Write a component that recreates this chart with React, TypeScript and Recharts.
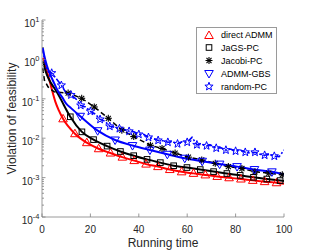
import React from "react";
import { LineChart, Line, XAxis, YAxis, Legend } from "recharts";

// direct ADMM
const admmX = [0.5, 1, 2, 3, 4, 5.5, 7, 8.7, 13.6, 18.5, 23.4, 28.3, 33.2, 38.1, 43, 47.9, 52.8, 57.7, 62.6, 67.5, 72.4, 77.3, 82.2, 87.1, 92, 96.9, 100];
const admmY = [1.1, 0.8, 0.5, 0.31, 0.18, 0.085, 0.05, 0.031, 0.013, 0.0077, 0.0054, 0.0042, 0.0033, 0.0027, 0.0022, 0.0019, 0.0016, 0.0014, 0.00128, 0.00117, 0.00107, 0.00099, 0.00092, 0.00085, 0.00079, 0.00074, 0.0007];

// JaGS-PC
const jagsX = [0.5, 1.5, 3, 5, 7, 9, 11.7, 16.5, 21.3, 26.9, 32.4, 37.9, 43.4, 48.9, 54.4, 59.9, 65.4, 70.9, 76.4, 81.9, 87.4, 92.9, 98.4, 100];
const jagsY = [0.9, 0.5, 0.3, 0.19, 0.12, 0.07, 0.035, 0.0145, 0.0092, 0.0063, 0.0046, 0.0036, 0.0029, 0.0024, 0.002, 0.0018, 0.0016, 0.00142, 0.00127, 0.00114, 0.00102, 0.00092, 0.00084, 0.00082];

// Jacobi-PC
const jacobiX = [0.3, 1, 2.5, 5, 10.8, 16.4, 21.6, 27.4, 33, 37.9, 44.8, 49.6, 55, 60.5, 66, 71.6, 77, 82.6, 88, 93.7, 99.3];
const jacobiY = [0.6, 0.3, 0.2, 0.15, 0.14, 0.103, 0.062, 0.032, 0.016, 0.011, 0.0066, 0.0055, 0.0042, 0.0033, 0.0028, 0.0023, 0.0019, 0.0017, 0.0014, 0.0013, 0.00118];

// ADMM-GBS
const gbsX = [0.3, 1, 2, 3.5, 5, 6.5, 8.3, 10, 12, 15.8, 23, 30.2, 37.4, 44.6, 51.8, 59, 66.2, 73.4, 80.6, 87.8, 95, 100];
const gbsY = [2.0, 1.2, 0.7, 0.4, 0.25, 0.16, 0.11, 0.075, 0.058, 0.036, 0.0155, 0.009, 0.0065, 0.005, 0.0039, 0.0031, 0.0026, 0.0022, 0.0019, 0.0016, 0.0014, 0.0012];

// random-PC
const randX = [0, 2, 4, 6, 8, 10, 12, 14, 16, 18, 20, 22, 24, 26, 28, 30, 32, 34, 36, 38, 40, 42, 44, 46, 48, 50, 52, 54, 56, 58, 60, 62, 64, 66, 68, 70, 72, 74, 76, 78, 80, 82, 84, 86, 88, 90, 92, 94, 96, 98, 100];
const randY = [2.0, 0.55, 0.45, 0.32, 0.22, 0.14, 0.125, 0.1, 0.068, 0.062, 0.048, 0.041, 0.03, 0.027, 0.02, 0.019, 0.0175, 0.0165, 0.015, 0.0145, 0.0125, 0.0125, 0.0105, 0.0098, 0.0088, 0.0086, 0.0079, 0.0081, 0.0072, 0.0082, 0.0079, 0.0105, 0.0068, 0.007, 0.0064, 0.0066, 0.0056, 0.0057, 0.005, 0.0053, 0.0047, 0.005, 0.0044, 0.0042, 0.0044, 0.0039, 0.0037, 0.0039, 0.0035, 0.0034, 0.005];

const xTicks = [0, 20, 40, 60, 80, 100];
const yMajor = [1e-4, 1e-3, 1e-2, 1e-1, 1, 10];
const minorSteps = [2, 3, 4, 5, 6, 7, 8, 9];
const yTicks = [
  ...yMajor,
  ...yMajor.slice(0, -1).flatMap((d) => minorSteps.map((m) => m * d)),
];

const FONT = "'Liberation Sans', Arial, Helvetica, sans-serif";
const AXIS = "#808080";
const TXT = "#262626";

type Kind = "up" | "square" | "asterisk" | "down" | "star";

const rows = (xs: number[], ys: number[]) => xs.map((x, i) => ({ x, v: ys[i] }));

function Marker({ kind, cx, cy, color }: { kind: Kind; cx: number; cy: number; color: string }) {
  if (kind === "up")
    return <polygon points={`${cx},${cy - 4.5} ${cx - 4.3},${cy + 3} ${cx + 4.3},${cy + 3}`} fill="none" stroke={color} strokeWidth={1} />;
  if (kind === "down")
    return <polygon points={`${cx},${cy + 4.5} ${cx - 4.3},${cy - 3} ${cx + 4.3},${cy - 3}`} fill="none" stroke={color} strokeWidth={1} />;
  if (kind === "square")
    return <rect x={cx - 2.8} y={cy - 2.8} width={5.6} height={5.6} fill="none" stroke={color} strokeWidth={1} />;
  if (kind === "asterisk") {
    const r = 3.5;
    const d = r * 0.72;
    return (
      <g stroke={color} strokeWidth={1.1}>
        <line x1={cx - r} y1={cy} x2={cx + r} y2={cy} />
        <line x1={cx} y1={cy - r} x2={cx} y2={cy + r} />
        <line x1={cx - d} y1={cy - d} x2={cx + d} y2={cy + d} />
        <line x1={cx - d} y1={cy + d} x2={cx + d} y2={cy - d} />
      </g>
    );
  }
  const pts: string[] = [];
  for (let k = 0; k < 10; k++) {
    const r = k % 2 === 0 ? 4.3 : 1.8;
    const a = -Math.PI / 2 + (k * Math.PI) / 5;
    pts.push(`${cx + r * Math.cos(a)},${cy + r * Math.sin(a)}`);
  }
  return <polygon points={pts.join(" ")} fill="none" stroke={color} strokeWidth={1} />;
}

const series = [
  { name: "direct ADMM", data: rows(admmX, admmY), color: "#ff0000", kind: "up" as Kind, width: 2, dash: undefined, type: "monotone", from: 7, to: admmX.length - 2, every: 1 },
  { name: "JaGS-PC", data: rows(jagsX, jagsY), color: "#000000", kind: "square" as Kind, width: 2, dash: undefined, type: "monotone", from: 6, to: jagsX.length - 2, every: 1 },
  { name: "Jacobi-PC", data: rows(jacobiX, jacobiY), color: "#000000", kind: "asterisk" as Kind, width: 1.5, dash: "5 3", type: "linear", from: 4, to: jacobiX.length - 1, every: 1 },
  { name: "ADMM-GBS", data: rows(gbsX, gbsY), color: "#0000ff", kind: "down" as Kind, width: 2, dash: undefined, type: "monotone", from: 9, to: gbsX.length - 2, every: 1 },
  { name: "random-PC", data: rows(randX, randY), color: "#0000ff", kind: "star" as Kind, width: 1.6, dash: "6 2 2 2", type: "linear", from: 2, to: randX.length - 2, every: 2 },
];

function LeftTick({ x, y, payload }: any) {
  const v = payload.value;
  const major = yMajor.includes(v);
  return (
    <g>
      <line x1={x} y1={y} x2={x + (major ? 3.5 : 2)} y2={y} stroke={AXIS} strokeWidth={0.8} />
      {major && (
        <text x={x - 2.5} y={y + 7} textAnchor="end" fontSize={10} fill={TXT} fontFamily={FONT}>
          10
          <tspan dy={-5} fontSize={7.5}>
            {Math.round(Math.log10(v))}
          </tspan>
        </text>
      )}
    </g>
  );
}

function RightTick({ x, y, payload }: any) {
  const major = yMajor.includes(payload.value);
  return <line x1={x} y1={y} x2={x - (major ? 3.5 : 2)} y2={y} stroke={AXIS} strokeWidth={0.8} />;
}

function BottomTick({ x, y, payload }: any) {
  return (
    <g>
      <line x1={x} y1={y} x2={x} y2={y - 3.5} stroke={AXIS} strokeWidth={0.8} />
      <text x={x} y={y + 16} textAnchor="middle" fontSize={10} fill={TXT} fontFamily={FONT}>
        {payload.value}
      </text>
    </g>
  );
}

function TopTick({ x, y }: any) {
  return <line x1={x} y1={y} x2={x} y2={y + 3.5} stroke={AXIS} strokeWidth={0.8} />;
}

function YLabel(props: any) {
  const vb = props.viewBox;
  const cx = vb.x + 12;
  const cy = vb.y + vb.height / 2;
  return (
    <text x={cx} y={cy} transform={`rotate(-90 ${cx} ${cy})`} textAnchor="middle" dominantBaseline="central" fontSize={12} fill={TXT} fontFamily={FONT}>
      Violation of feasibility
    </text>
  );
}

function LegendBox() {
  return (
    <div style={{ position: "relative", width: 81, height: 67, boxSizing: "border-box", border: "1px solid #9a9a9a", background: "#fff", fontFamily: FONT, fontSize: 9, color: "#000" }}>
      {series.map((s, i) => (
        <div key={s.name} style={{ position: "absolute", left: 0, top: 0.5 + i * 12.9, height: 13, display: "flex", alignItems: "center", whiteSpace: "nowrap" }}>
          <svg width={23} height={13} style={{ display: "block" }}>
            <Marker kind={s.kind} cx={12} cy={6.5} color={s.color} />
          </svg>
          <span style={{ marginLeft: 1 }}>{s.name}</span>
        </div>
      ))}
    </div>
  );
}

export default function App() {
  return (
    <div style={{ position: "absolute", left: 0, top: 0, width: 315, height: 252, background: "#fff" }}>
      <LineChart width={315} height={252} margin={{ top: 20, right: 31, bottom: 0, left: 0 }}>
        <XAxis
          dataKey="x"
          type="number"
          domain={[0, 100]}
          ticks={xTicks}
          interval={0}
          allowDataOverflow
          height={35}
          tickSize={0}
          tickMargin={0}
          tick={BottomTick}
          tickLine={false}
          axisLine={{ stroke: AXIS, strokeWidth: 0.8 }}
          label={{ value: "Running time", position: "insideBottom", offset: 5, fontSize: 12, fill: TXT, fontFamily: FONT }}
        />
        <XAxis
          xAxisId="top"
          orientation="top"
          dataKey="x"
          type="number"
          domain={[0, 100]}
          ticks={xTicks}
          interval={0}
          allowDataOverflow
          height={0}
          tickSize={0}
          tickMargin={0}
          tick={TopTick}
          tickLine={false}
          axisLine={{ stroke: AXIS, strokeWidth: 0.8 }}
        />
        <YAxis
          scale="log"
          type="number"
          domain={[1e-4, 10]}
          ticks={yTicks}
          interval={0}
          allowDataOverflow
          width={42}
          tickSize={0}
          tickMargin={0}
          tick={LeftTick}
          tickLine={false}
          axisLine={{ stroke: AXIS, strokeWidth: 0.8 }}
          label={YLabel}
        />
        <YAxis
          yAxisId="right"
          orientation="right"
          scale="log"
          type="number"
          domain={[1e-4, 10]}
          ticks={yTicks}
          interval={0}
          allowDataOverflow
          width={0}
          tickSize={0}
          tickMargin={0}
          tick={RightTick}
          tickLine={false}
          axisLine={{ stroke: AXIS, strokeWidth: 0.8 }}
        />
        <Legend
          layout="vertical"
          align="center"
          verticalAlign="middle"
          content={LegendBox}
          wrapperStyle={{ left: 196, top: 27, width: 81, height: 67 }}
        />
        {series.map((s) => (
          <Line
            key={s.name}
            name={s.name}
            data={s.data}
            dataKey="v"
            type={s.type as any}
            stroke={s.color}
            strokeWidth={s.width}
            strokeDasharray={s.dash}
            isAnimationActive={false}
            activeDot={false}
            dot={(p: any) =>
              p.index >= s.from && p.index <= s.to && (p.index - s.from) % s.every === 0 ? (
                <Marker key={`${s.name}-${p.index}`} kind={s.kind} cx={p.cx} cy={p.cy} color={s.color} />
              ) : (
                <g key={`${s.name}-${p.index}`} />
              )
            }
          />
        ))}
      </LineChart>
    </div>
  );
}
